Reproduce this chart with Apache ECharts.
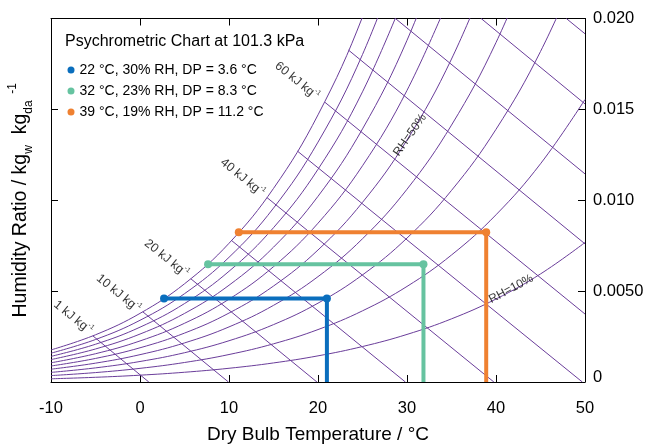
<!DOCTYPE html>
<html><head><meta charset="utf-8">
<script src="https://cdn.jsdelivr.net/npm/echarts@6/dist/echarts.min.js"></script>
<style>html,body{margin:0;padding:0;background:#fff}#c{width:646px;height:444px}</style>
</head><body><div id="c"></div>
<script>
// ---- data ----
const temps = [-10, -5, 0, 5, 10, 15, 20, 25, 30, 35, 40, 45, 50];
const rhLevels = [10, 20, 30, 40, 50, 60, 70, 80, 90, 100];
const rh10  = [0.000176, 0.000259, 0.000375, 0.000536, 0.000755, 0.001049, 0.001439, 0.001952, 0.002618, 0.003475, 0.004566, 0.005946, 0.007675];
const rh20  = [0.000352, 0.000518, 0.000751, 0.001073, 0.001512, 0.002101, 0.002885, 0.003916, 0.005258, 0.006988, 0.009200, 0.012007, 0.015543];
const rh30  = [0.000528, 0.000777, 0.001128, 0.001611, 0.002270, 0.003157, 0.004338, 0.005893, 0.007920, 0.010541, 0.013903, 0.018186, 0.023609];
const rh40  = [0.000704, 0.001037, 0.001504, 0.002150, 0.003031, 0.004217, 0.005797, 0.007882, 0.010606, 0.014135, 0.018677, 0.024486];
const rh50  = [0.000880, 0.001296, 0.001882, 0.002690, 0.003793, 0.005280, 0.007264, 0.009884, 0.013314, 0.017770, 0.023522];
const rh60  = [0.001056, 0.001556, 0.002259, 0.003231, 0.004557, 0.006347, 0.008737, 0.011898, 0.016045, 0.021446];
const rh70  = [0.001233, 0.001817, 0.002638, 0.003772, 0.005323, 0.007417, 0.010217, 0.013925, 0.018800, 0.025165];
const rh80  = [0.001409, 0.002077, 0.003016, 0.004315, 0.006091, 0.008491, 0.011704, 0.015966, 0.021579];
const rh90  = [0.001586, 0.002337, 0.003395, 0.004859, 0.006860, 0.009569, 0.013198, 0.018019, 0.024382];
const rh100 = [0.001764, 0.002598, 0.003775, 0.005403, 0.007632, 0.010650, 0.014699, 0.020086, 0.027210];
const rhCurves = [rh10, rh20, rh30, rh40, rh50, rh60, rh70, rh80, rh90, rh100];

const enthalpyLevels = [1, 10, 20, 30, 40, 50, 60, 70, 80, 90, 100];
const enthalpyStart = [[-5.3, 0.00254], [0.32, 0.00386], [5.71, 0.00568], [10.3, 0.00778], [14.26, 0.01015], [17.7, 0.0127], [20.75, 0.0154], [23.43, 0.01826], [28.7, 0.02], [38.33, 0.02], [47.9, 0.02]];
const enthalpyEnd   = [[0.99, 0], [9.94, 0], [19.88, 0], [29.82, 0], [39.76, 0], [49.7, 0], [50, 0.00374], [50, 0.0076], [50, 0.01145], [50, 0.0153], [50, 0.01916]];

const stateNames = ['22 °C, 30% RH, DP = 3.6 °C', '32 °C, 23% RH, DP = 8.3 °C', '39 °C, 19% RH, DP = 11.2 °C'];
const stateDryBulb = [21.0, 31.85, 38.9];
const stateDewPoint = [2.7, 7.65, 11.1];
const stateHumRatio = [0.00459, 0.00648, 0.00824];

const xTickLabels = ['-10', '0', '10', '20', '30', '40', '50'];
const yTickLabels = ['0', '0.0050', '0.010', '0.015', '0.020'];

const enthalpyLabelTexts = ['1 kJ kg', '10 kJ kg', '20 kJ kg', '40 kJ kg', '60 kJ kg'];
const rhLabelTexts = ['RH=50%', 'RH=10%'];

// ---- layout / style config ----
const FONT = '"Liberation Sans", Arial, Helvetica, sans-serif';
const PURPLE = '#6a3d9a';
const stateColors = ['#0a6ebd', '#66c3a0', '#ef8131'];
const enthalpyLabelAnchors = [[-7.53, 0.00355], [-2.42, 0.00487], [2.98, 0.0068], [11.52, 0.01125], [17.64, 0.01656]];
const rhLabelAnchors = [[30.34, 0.01359], [41.69, 0.00512]];
const rhLabelRotate = [55, 28];

const series = [];
rhCurves.forEach((arr, k) => {
  series.push({
    type: 'line', name: 'RH' + rhLevels[k], silent: true, smooth: 0.4,
    symbol: 'none', clip: true, z: 2,
    lineStyle: { color: PURPLE, width: 1 },
    data: arr.map((w, i) => [temps[i], w])
  });
});
enthalpyLevels.forEach((h, k) => {
  series.push({
    type: 'line', name: 'h' + h, silent: true, symbol: 'none', clip: true, z: 2,
    lineStyle: { color: PURPLE, width: 1 },
    data: [enthalpyStart[k], enthalpyEnd[k]]
  });
});
stateNames.forEach((nm, k) => {
  series.push({
    type: 'line', name: nm, silent: true, z: 5,
    symbol: 'circle', symbolSize: 8, showSymbol: true,
    itemStyle: { color: stateColors[k] },
    lineStyle: { color: stateColors[k], width: 4 },
    data: [
      { value: [stateDryBulb[k], 0], symbol: 'none' },
      [stateDryBulb[k], stateHumRatio[k]],
      [stateDewPoint[k], stateHumRatio[k]]
    ]
  });
});
// annotation labels
series.push({
  type: 'scatter', name: 'labels', silent: true, z: 6, symbolSize: 1,
  itemStyle: { color: 'transparent' },
  data: enthalpyLabelTexts.map((t, i) => ({
    value: enthalpyLabelAnchors[i],
    label: {
      show: true, position: 'inside', rotate: -39,
      formatter: '{a|' + t + '}{p|-1}',
      rich: {
        a: { fontSize: 12.5, fontFamily: FONT, color: '#000', lineHeight: 16, verticalAlign: 'middle' },
        p: { fontSize: 7, fontFamily: FONT, color: '#000', lineHeight: 9, verticalAlign: 'top' }
      }
    }
  })).concat(rhLabelTexts.map((t, i) => ({
    value: rhLabelAnchors[i],
    label: {
      show: true, position: 'inside', rotate: rhLabelRotate[i],
      formatter: t, fontSize: 12, fontFamily: FONT, color: '#000'
    }
  })))
});

const axisCommon = {
  axisLine: { show: true, onZero: false, lineStyle: { color: '#000', width: 1 } },
  axisTick: { show: true, inside: true, length: 7, lineStyle: { color: '#000', width: 1 } },
  splitLine: { show: false }
};

const chart = echarts.init(document.getElementById('c'), null, { renderer: 'canvas' });
chart.setOption({
  animation: false,
  backgroundColor: '#fff',
  textStyle: { fontFamily: FONT },
  title: {
    text: 'Psychrometric Chart at 101.3 kPa', left: 60, top: 29,
    textStyle: { fontSize: 16, fontWeight: 'normal', color: '#000', fontFamily: FONT }
  },
  legend: {
    orient: 'vertical', left: 62.5, top: 58, icon: 'circle',
    itemWidth: 7, itemHeight: 7, itemGap: 7,
    textStyle: { fontSize: 14, color: '#000', fontFamily: FONT },
    data: stateNames
  },
  grid: { left: 51, right: 61, top: 18.5, bottom: 62, containLabel: false, outerBoundsMode: 'none' },
  xAxis: [
    Object.assign({
      type: 'value', min: -10, max: 50, interval: 10, position: 'bottom',
      axisLabel: { fontSize: 16.5, color: '#000', margin: 18, fontFamily: FONT,
        formatter: v => xTickLabels[Math.round((v + 10) / 10)] },
      name: 'Dry Bulb Temperature / °C', nameLocation: 'middle', nameGap: 43,
      nameTextStyle: { fontSize: 19, color: '#000', fontFamily: FONT }
    }, axisCommon),
    Object.assign({
      type: 'value', min: -10, max: 50, interval: 10, position: 'top',
      axisLabel: { show: false }
    }, axisCommon)
  ],
  yAxis: [
    Object.assign({
      type: 'value', min: 0, max: 0.02, interval: 0.005, position: 'right',
      axisLabel: { fontSize: 16.5, color: '#000', margin: 8, fontFamily: FONT,
        formatter: v => {
          const i = Math.round(v / 0.005);
          return i === 0 ? '{z|' + yTickLabels[i] + '}' : yTickLabels[i];
        },
        rich: { z: { fontSize: 16.5, fontFamily: FONT, color: '#000', padding: [0, 0, 10, 0] } }
      }
    }, axisCommon),
    Object.assign({
      type: 'value', min: 0, max: 0.02, interval: 0.005, position: 'left',
      axisLabel: { show: false },
      name: '{m|Humidity Ratio / kg}{s|w}{m|  kg}{s|da}{p|  -1}',
      nameLocation: 'middle', nameRotate: 90, nameGap: 16,
      nameTextStyle: {
        fontSize: 19, color: '#000', fontFamily: FONT,
        rich: {
          m: { fontSize: 19.5, fontFamily: FONT, color: '#000', lineHeight: 28, verticalAlign: 'middle' },
          s: { fontSize: 12, fontFamily: FONT, color: '#000', lineHeight: 12, verticalAlign: 'bottom' },
          p: { fontSize: 12, fontFamily: FONT, color: '#000', lineHeight: 12, verticalAlign: 'top' }
        }
      }
    }, axisCommon)
  ],
  series: series
});
</script></body></html>
